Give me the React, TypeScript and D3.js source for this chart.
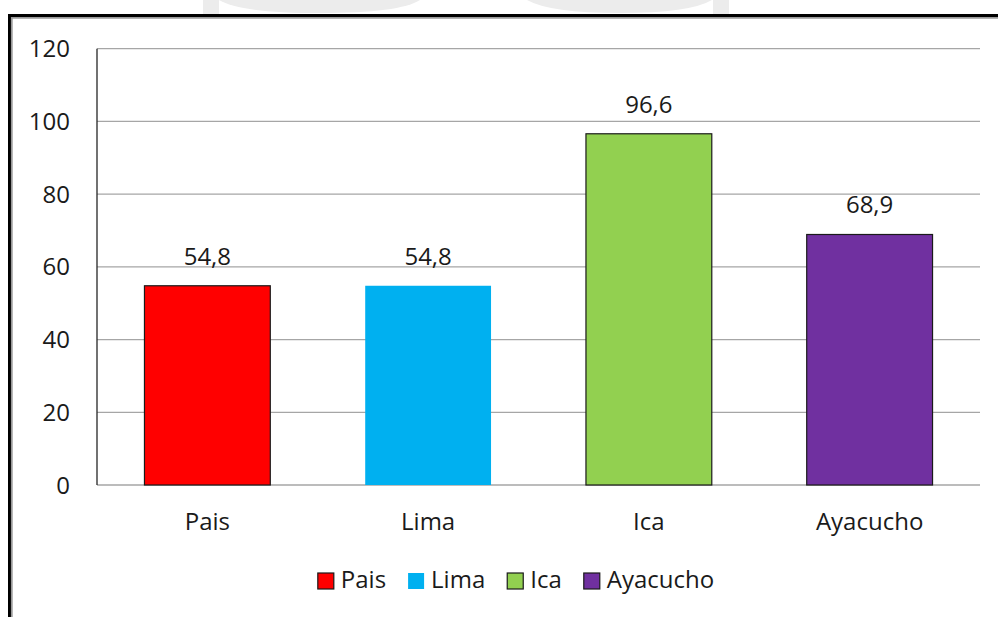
import React, { useEffect, useRef } from "react";
import * as d3 from "d3";

const categories = ["Pais", "Lima", "Ica", "Ayacucho"];
const values = [54.8, 54.8, 96.6, 68.9];
const labels = ["54,8", "54,8", "96,6", "68,9"];
const colors = ["#FF0000", "#00B0F0", "#92D050", "#7030A0"];
const strokes = ["#1a1a1a", "none", "#1a1a1a", "#1a1a1a"];
const yTicks = [0, 20, 40, 60, 80, 100, 120];

const W = 998;
const H = 617;
const FONT = "'Open Sans', sans-serif";

export default function App() {
  const legendRef = useRef<SVGGElement>(null);

  const x = d3.scaleBand<string>().domain(categories).range([97, 980]).paddingInner(0.43).paddingOuter(0.215);
  const y = d3.scaleLinear().domain([0, 120]).range([485, 48.7]);

  useEffect(() => {
    const g = d3.select(legendRef.current);
    g.selectAll("*").remove();
    const sw = 16;
    const gapText = 7;
    const gapItem = 22;
    const items = categories.map((c, i) => {
      const item = g.append("g");
      item
        .append("rect")
        .attr("width", sw)
        .attr("height", sw)
        .attr("y", -sw + 1)
        .attr("fill", colors[i])
        .attr("stroke", strokes[i])
        .attr("stroke-width", 1.2);
      const t = item
        .append("text")
        .attr("x", sw + gapText)
        .attr("font-family", FONT)
        .attr("font-size", 24)
        .attr("fill", "#1a1a1a")
        .text(c);
      const w = (t.node() as SVGTextElement).getComputedTextLength();
      return { item, w: sw + gapText + w };
    });
    const total = items.reduce((s, d) => s + d.w, 0) + gapItem * (items.length - 1);
    let cx = 516 - total / 2;
    items.forEach((d) => {
      d.item.attr("transform", `translate(${cx},588)`);
      cx += d.w + gapItem;
    });
  }, []);

  return (
    <svg
      width={W}
      height={H}
      style={{ position: "absolute", left: 0, top: 0, background: "#fff" }}
      fontFamily={FONT}
    >
      {/* faint watermark shapes at top */}
      <g fill="#ececec">
        <rect x={203} y={0} width={16} height={14} />
        <path d="M219,0 L420,0 Q400,13 320,13 Q240,13 219,0 Z" />
        <path d="M527,0 L712,0 Q690,13 620,13 Q550,13 527,0 Z" />
        <rect x={713} y={0} width={16} height={14} />
      </g>
      {/* frame */}
      <path d="M9.5,1000 L9.5,15.5 L1010,15.5" fill="none" stroke="#000" strokeWidth={3} />
      <path d="M11.8,1000 L11.8,17.8 L1010,17.8" fill="none" stroke="#9a9a9a" strokeWidth={1.8} />

      {/* gridlines */}
      {yTicks.map((t) => (
        <line key={t} x1={97} x2={980} y1={y(t)} y2={y(t)} stroke="#a6a6a6" strokeWidth={1.3} />
      ))}
      {/* y axis line */}
      <line x1={97} x2={97} y1={y(120)} y2={y(0)} stroke="#262626" strokeWidth={1.3} />
      {/* y tick labels */}
      {yTicks.map((t) => (
        <text key={t} x={70} y={y(t) + 8.5} textAnchor="end" fontSize={24} fill="#1a1a1a">
          {t}
        </text>
      ))}

      {/* bars */}
      {categories.map((c, i) => (
        <rect
          key={c}
          x={x(c)}
          y={y(values[i])}
          width={x.bandwidth()}
          height={y(0) - y(values[i])}
          fill={colors[i]}
          stroke={strokes[i]}
          strokeWidth={1.2}
        />
      ))}
      {/* data labels */}
      {categories.map((c, i) => (
        <text
          key={c}
          x={(x(c) as number) + x.bandwidth() / 2}
          y={y(values[i]) - 21}
          textAnchor="middle"
          fontSize={24}
          fill="#1a1a1a"
        >
          {labels[i]}
        </text>
      ))}
      {/* category labels */}
      {categories.map((c) => (
        <text
          key={c}
          x={(x(c) as number) + x.bandwidth() / 2}
          y={530}
          textAnchor="middle"
          fontSize={24}
          fill="#1a1a1a"
        >
          {c}
        </text>
      ))}

      <g ref={legendRef} />
    </svg>
  );
}
